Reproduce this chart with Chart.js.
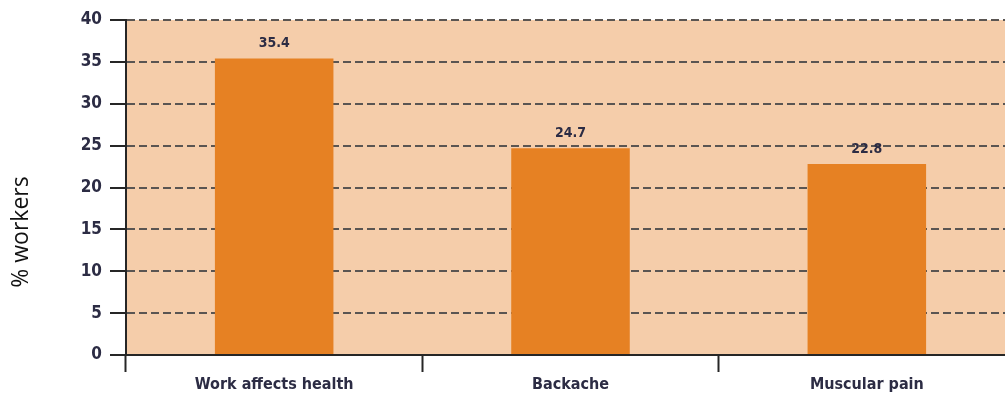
<!DOCTYPE html>
<html>
<head>
<meta charset="utf-8">
<script src="https://cdn.jsdelivr.net/npm/chart.js@4.4.1/dist/chart.umd.min.js"></script>
<style>
    html, body { margin: 0; padding: 0; background: #fff; overflow: hidden; }
    canvas { display: block; }
</style>
</head>
<body>
<canvas id="health-chart" width="1016" height="396"></canvas>
<script>
// ───────────────────────── DATA ─────────────────────────
const categories = ["Work affects health", "Backache", "Muscular pain"];
const workerShare = [35.4, 24.7, 22.8];   // % workers
const yTicks      = [0, 5, 10, 15, 20, 25, 30, 35, 40];
const yTitle      = "% workers";

// ───────────────────────── STYLE ─────────────────────────
const NARROW   = "'Liberation Sans Narrow', 'DejaVu Sans Condensed', sans-serif";
const INK      = "#2c2c44";
const AXIS     = "#262626";
const DASH     = "#5a5552";
const PLOT_BG  = "#f5cdaa";
const BAR      = "#e68123";

// peach fill behind the plot area
const plotBackground = {
    id: "plotBackground",
    beforeDraw(chart) {
        const { ctx, chartArea: a } = chart;
        ctx.save();
        ctx.fillStyle = PLOT_BG;
        ctx.fillRect(a.left, a.top, a.right - a.left, a.bottom - a.top);
        ctx.restore();
    }
};

// value printed above each bar
const valueLabels = {
    id: "valueLabels",
    afterDatasetsDraw(chart) {
        const { ctx } = chart;
        const meta = chart.getDatasetMeta(0);
        ctx.save();
        ctx.font = "bold 14px " + NARROW;
        ctx.fillStyle = INK;
        ctx.textAlign = "center";
        ctx.textBaseline = "bottom";
        meta.data.forEach((bar, i) => {
            ctx.fillText(workerShare[i].toFixed(1), bar.x, bar.y - 8);
        });
        ctx.restore();
    }
};

// y title sits lower than the axis middle, so it is drawn by hand
const sideTitle = {
    id: "sideTitle",
    afterDraw(chart) {
        const { ctx } = chart;
        ctx.save();
        ctx.translate(21, 232);
        ctx.rotate(-Math.PI / 2);
        ctx.font = "23px 'Open Sans', 'Noto Sans', sans-serif";
        ctx.fillStyle = "#111";
        ctx.textAlign = "center";
        ctx.textBaseline = "middle";
        ctx.fillText(yTitle, 0, 0);
        ctx.restore();
    }
};

// ───────────────────────── CHART ─────────────────────────
const ctx = document.getElementById("health-chart").getContext("2d");
new Chart(ctx, {
    type: "bar",
    data: {
        labels: categories,
        datasets: [{
            data:               workerShare,
            backgroundColor:    BAR,
            borderWidth:        0,
            barPercentage:      0.4,
            categoryPercentage: 1,
        }]
    },
    options: {
        responsive: false,
        animation:  false,
        layout: { padding: { top: 20, right: 1, left: 0, bottom: 0 } },
        plugins: {
            legend:  { display: false },
            tooltip: { enabled: false },
        },
        scales: {
            x: {
                grid: {
                    offset:          true,
                    drawOnChartArea: false,
                    drawTicks:       true,
                    tickLength:      17,
                    tickColor:       AXIS,
                    tickWidth:       2,
                },
                border: { display: true, color: AXIS, width: 2, z: 1 },
                ticks: {
                    color:   INK,
                    padding: 3,
                    font:    { family: NARROW, size: 16, weight: "bold" },
                },
                afterFit(scale) { scale.height = 41; },
            },
            y: {
                min: 0,
                max: 40,
                afterBuildTicks(scale) { scale.ticks = yTicks.map(v => ({ value: v })); },
                grid: {
                    color:       DASH,
                    lineWidth:   2,
                    drawTicks:   true,
                    tickLength:  16,
                    tickColor:   AXIS,
                    tickWidth:   2,
                    tickBorderDash: [],
                },
                border: { display: true, color: AXIS, width: 2, dash: [8, 4], z: 1 },
                ticks: {
                    color:   INK,
                    padding: 8,
                    font:    { family: NARROW, size: 17, weight: "bold" },
                },
                afterFit(scale) { scale.width = 126; },
            }
        }
    },
    plugins: [plotBackground, valueLabels, sideTitle]
});
</script>
</body>
</html>
